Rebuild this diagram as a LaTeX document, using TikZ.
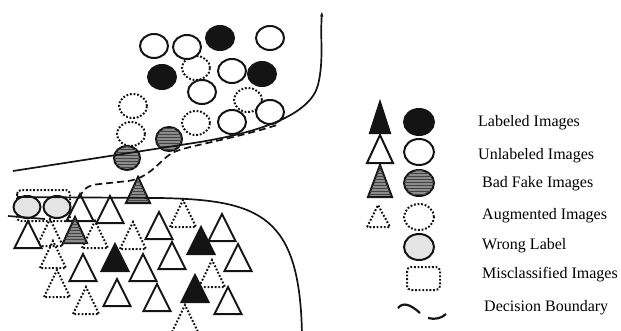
\documentclass[tikz,border=0pt]{standalone}
\usepackage{fontspec}
\setmainfont{Liberation Serif}
\usetikzlibrary{arrows.meta,patterns,shapes.geometric}
\definecolor{inkdark}{RGB}{20,20,20}
\definecolor{fakegray}{RGB}{140,140,140}
\definecolor{wronggray}{RGB}{228,228,228}

\begin{document}
\begin{tikzpicture}[x=1pt, y=-1pt,
  every node/.style={font=\fontsize{16}{18}\selectfont, anchor=west, inner sep=0pt},
  shp/.style={line width=2pt, draw=inkdark},
  opn/.style={shp, fill=white},
  lab/.style={shp, fill=inkdark},
  fake/.style={shp, fill=fakegray, postaction={pattern=horizontal lines, pattern color=inkdark!80}},
  aug/.style={shp, dash pattern=on 1.8pt off 1.8pt},
  wrong/.style={shp, fill=wronggray},
  bound/.style={line width=1.7pt, draw=inkdark},
  dashbound/.style={bound, dash pattern=on 7pt off 4pt}
]
  \useasboundingbox (0,0) rectangle (621,330);
  \clip (0,0) rectangle (621,330);

  % upper class: circles
  \foreach \x/\y in {196/68, 133/106, 248/100, 196/123, 131/134}
    \draw[aug] (\x,\y) ellipse [x radius=14pt, y radius=12pt];
  \foreach \x/\y in {154/46, 187/47, 270/38, 232/71, 202/92, 270/112, 232/122}
    \draw[opn] (\x,\y) ellipse [x radius=14pt, y radius=12pt];
  \foreach \x/\y in {220/38, 162/77, 262/74}
    \draw[lab] (\x,\y) ellipse [x radius=14pt, y radius=12pt];
  \foreach \x/\y in {169/139, 127/158}
    \draw[fake] (\x,\y) ellipse [x radius=13pt, y radius=12pt];

  % lower class: triangles
  \foreach \x/\y in {183/227, 50/246, 95/248, 133/249, 53/268, 212/287, 57/297, 86/314, 185/332}
    \draw[aug] (\x-13,\y) -- (\x,\y-27) -- (\x+13,\y) -- cycle;
  \foreach \x/\y in {80/221, 110/223, 159/239, 222/241, 28/248, 172/269, 238/271, 83/281, 143/281, 117/306, 157/311, 228/314}
    \draw[opn] (\x-13.5,\y) -- (\x,\y-27) -- (\x+13.5,\y) -- cycle;
  \foreach \x/\y in {115/271, 201/254, 195/302}
    \draw[lab] (\x-13.5,\y) -- (\x,\y-27) -- (\x+13.5,\y) -- cycle;
  \foreach \x/\y in {138/203, 75/243}
    \draw[fake] (\x-12,\y) -- (\x,\y-26) -- (\x+12,\y) -- cycle;

  % misclassified pair
  \draw[aug, rounded corners=4pt] (17,190) rectangle (70,221);
  \draw[wrong] (27,207) ellipse [x radius=13.5pt, y radius=11pt];
  \draw[wrong] (57,207) ellipse [x radius=13.5pt, y radius=11pt];

  % decision boundaries
  \draw[bound, -{Stealth[length=5pt,width=3.5pt]}] (13,171) -- (200,142)
    .. controls (260,132) and (310,115) .. (318,85)
    .. controls (324,60) and (320,40) .. (322,12);
  \draw[bound] (17,197) -- (160,198) .. controls (260,200) and (300,215) .. (302,335);
  \draw[bound] (8,216) -- (45,219);
  \draw[dashbound] (79,198) .. controls (84,188) and (88,185) .. (100,184) -- (128,181)
    .. controls (150,178) and (160,160) .. (172,153)
    .. controls (185,146) and (230,140) .. (277,125);

  % legend
  \draw[lab] (370,133) -- (380,102) -- (390,133) -- cycle;
  \draw[opn] (367,163) -- (380,135) -- (393,163) -- cycle;
  \draw[fake] (368,197) -- (380,165) -- (392,197) -- cycle;
  \draw[aug] (367,227) -- (378,205) -- (390,227) -- cycle;
  \draw[lab] (419,122) ellipse [x radius=15pt, y radius=13pt];
  \draw[opn] (419,152) ellipse [x radius=15pt, y radius=13pt];
  \draw[fake] (419,183) ellipse [x radius=15pt, y radius=13pt];
  \draw[aug] (419,217) ellipse [x radius=15pt, y radius=13pt];
  \draw[wrong] (419,247) ellipse [x radius=15pt, y radius=13pt];
  \draw[aug, rounded corners=4pt] (407,267) rectangle (440,290);
  \draw[shp, line width=2.2pt] (398,308) .. controls (403,302) and (410,304) .. (420,313);
  \draw[shp, line width=2.2pt] (428,318) .. controls (435,320) and (442,318) .. (446,314);

  \node (tLab)   at (478,123) {Labeled Images};
  \node (tUnlab) at (478,156) {Unlabeled Images};
  \node (tFake)  at (482,184) {Bad Fake Images};
  \node (tAug)   at (482,216) {Augmented Images};
  \node (tWrong) at (482,246) {Wrong Label};
  \node (tMis)   at (482,275) {Misclassified Images};
  \node (tBound) at (484,308) {Decision Boundary};
\end{tikzpicture}
\end{document}
